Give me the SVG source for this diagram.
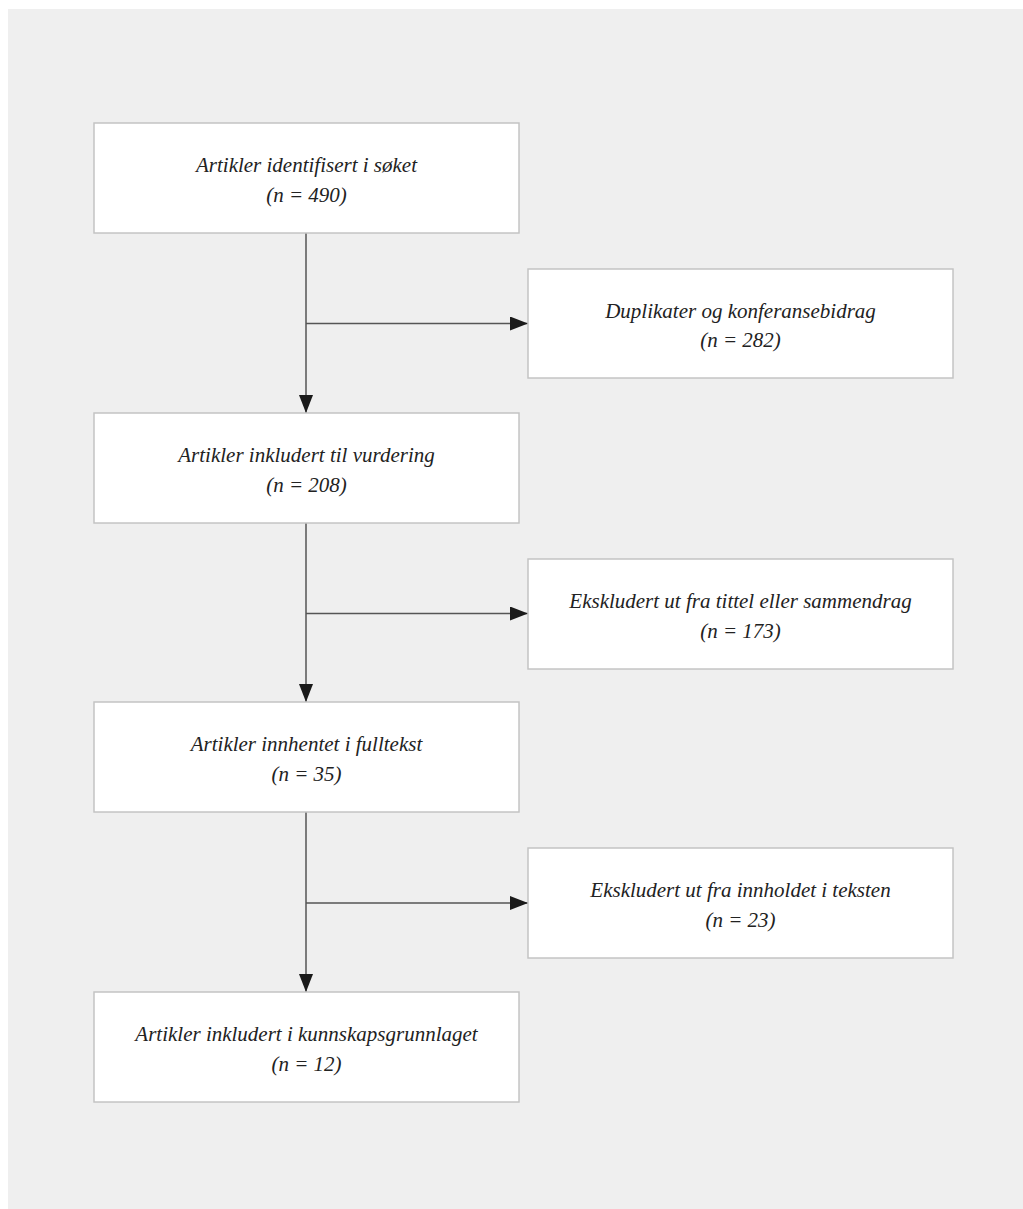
<svg xmlns="http://www.w3.org/2000/svg" width="1023" height="1209" viewBox="0 0 1023 1209">
<defs>
<style>
.box{fill:#ffffff;stroke:#c4c4c4;stroke-width:1.5}
.t{font-family:"Liberation Serif","Times New Roman",serif;font-style:italic;font-size:21px;fill:#222;text-anchor:middle}
.c{stroke:#555;stroke-width:1.5;fill:none}
</style>
<marker id="ah" viewBox="0 0 18 14" refX="18" refY="7" markerWidth="18" markerHeight="14" markerUnits="userSpaceOnUse" orient="auto">
<path d="M0,0 L18,7 L0,14 Z" fill="#1a1a1a"/>
</marker>
</defs>
<rect x="0" y="0" width="1023" height="1209" fill="#ffffff"/>
<rect x="8" y="9" width="1015" height="1200" fill="#efefef"/>
<g id="connectors">
<line class="c" x1="306" y1="233" x2="306" y2="413" marker-end="url(#ah)"/>
<line class="c" x1="306" y1="323.5" x2="528" y2="323.5" marker-end="url(#ah)"/>
<line class="c" x1="306" y1="523" x2="306" y2="702" marker-end="url(#ah)"/>
<line class="c" x1="306" y1="613.5" x2="528" y2="613.5" marker-end="url(#ah)"/>
<line class="c" x1="306" y1="812" x2="306" y2="992" marker-end="url(#ah)"/>
<line class="c" x1="306" y1="903" x2="528" y2="903" marker-end="url(#ah)"/>
</g>
<g id="n1">
<rect class="box" x="94" y="123" width="425" height="110"/>
<text class="t" x="306.5" y="172">Artikler identifisert i søket</text>
<text class="t" x="306.5" y="202">(n = 490)</text>
</g>
<g id="n2">
<rect class="box" x="528" y="269" width="425" height="109"/>
<text class="t" x="740.5" y="318">Duplikater og konferansebidrag</text>
<text class="t" x="740.5" y="347">(n = 282)</text>
</g>
<g id="n3">
<rect class="box" x="94" y="413" width="425" height="110"/>
<text class="t" x="306.5" y="462">Artikler inkludert til vurdering</text>
<text class="t" x="306.5" y="492">(n = 208)</text>
</g>
<g id="n4">
<rect class="box" x="528" y="559" width="425" height="110"/>
<text class="t" x="740.5" y="608">Ekskludert ut fra tittel eller sammendrag</text>
<text class="t" x="740.5" y="638">(n = 173)</text>
</g>
<g id="n5">
<rect class="box" x="94" y="702" width="425" height="110"/>
<text class="t" x="306.5" y="751">Artikler innhentet i fulltekst</text>
<text class="t" x="306.5" y="781">(n = 35)</text>
</g>
<g id="n6">
<rect class="box" x="528" y="848" width="425" height="110"/>
<text class="t" x="740.5" y="897">Ekskludert ut fra innholdet i teksten</text>
<text class="t" x="740.5" y="927">(n = 23)</text>
</g>
<g id="n7">
<rect class="box" x="94" y="992" width="425" height="110"/>
<text class="t" x="306.5" y="1041">Artikler inkludert i kunnskapsgrunnlaget</text>
<text class="t" x="306.5" y="1071">(n = 12)</text>
</g>
</svg>
